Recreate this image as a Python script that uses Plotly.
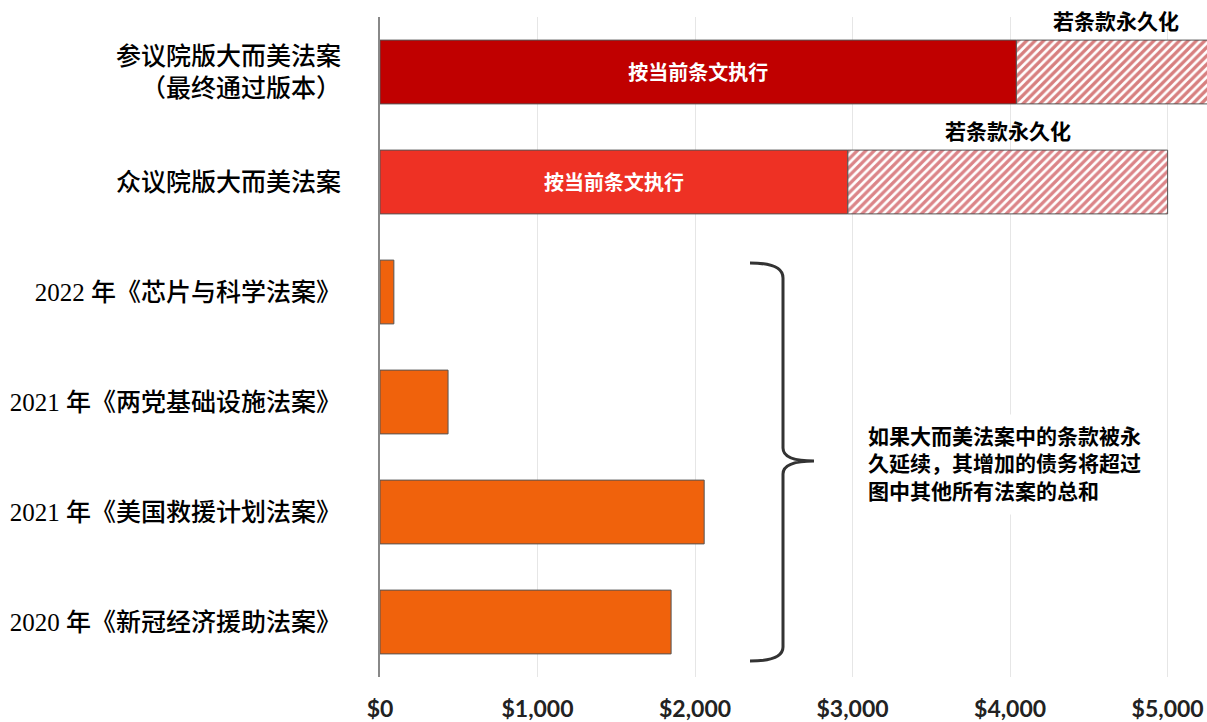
import plotly.graph_objects as go

categories = [
    "参议院版大而美法案<br>（最终通过版本）",
    "众议院版大而美法案",
    "2022 年《芯片与科学法案》",
    "2021 年《两党基础设施法案》",
    "2021 年《美国救援计划法案》",
    "2020 年《新冠经济援助法案》",
]
current_values = [4040, 2970, 88, 432, 2058, 1848]
permanent_totals = [5300, 5000]
bar_colors = ["#C00000", "#EE3124", "#F0620C", "#F0620C", "#F0620C", "#F0620C"]
hatch_colors = ["#B00000", "#B80A12"]
bar_texts = ["按当前条文执行", "按当前条文执行", "", "", "", ""]
hatch_label = "若条款永久化"
tick_vals = [0, 1000, 2000, 3000, 4000, 5000]
tick_text = ["$0", "$1,000", "$2,000", "$3,000", "$4,000", "$5,000"]
note_text = "如果大而美法案中的条款被永<br>久延续，其增加的债务将超过<br>图中其他所有法案的总和"

cjk = "Liberation Serif, Noto Sans CJK SC, serif"

fig = go.Figure()
fig.add_trace(go.Bar(
    y=categories, x=current_values, orientation="h",
    marker=dict(color=bar_colors, line=dict(color="#555555", width=1)),
    text=bar_texts, textposition="inside", insidetextanchor="middle",
    textfont=dict(color="white", size=20, family=cjk, weight="bold"),
    showlegend=False, hoverinfo="skip",
))
hatch_base = current_values[:2]
hatch_len = [t - c for t, c in zip(permanent_totals, hatch_base)]
fig.add_trace(go.Bar(
    y=categories[:2], x=hatch_len, base=hatch_base, orientation="h",
    marker=dict(color="white", line=dict(color="#555555", width=1),
                pattern=dict(shape="/", fgcolor=hatch_colors, bgcolor="white",
                             size=6, solidity=0.55)),
    showlegend=False, hoverinfo="skip",
))

for i in range(2):
    fig.add_annotation(
        x=(hatch_base[i] + permanent_totals[i]) / 2, y=categories[i],
        xref="x", yref="y", text=hatch_label, showarrow=False, yshift=50,
        font=dict(size=21, color="black", family=cjk, weight="bold"),
    )

fig.add_annotation(
    x=0.577, y=0.3227, xref="paper", yref="paper", xanchor="left", yanchor="middle",
    text=note_text, showarrow=False, align="left", bgcolor="white", borderpad=10,
    font=dict(size=21, color="black", family=cjk, weight="bold"),
)

# curly brace
def px(xp):
    return (xp - 380) / 827
def py(yp):
    return (677 - yp) / 660
path = (
    f"M {px(750)},{py(263)} Q {px(783)},{py(263)} {px(783)},{py(278)} "
    f"L {px(783)},{py(448)} Q {px(783)},{py(461)} {px(814)},{py(461)} "
    f"Q {px(783)},{py(461)} {px(783)},{py(474)} "
    f"L {px(783)},{py(647)} Q {px(783)},{py(661)} {px(750)},{py(661)}"
)
fig.add_shape(type="path", path=path, xref="paper", yref="paper",
              line=dict(color="#333333", width=3))

fig.update_layout(
    width=1207, height=722,
    margin=dict(l=380, r=0, t=17, b=45),
    paper_bgcolor="white", plot_bgcolor="white",
    barmode="overlay", bargap=0.42,
    xaxis=dict(range=[0, 5250], tickvals=tick_vals, ticktext=tick_text,
               showgrid=True, gridcolor="#e6e6e6", gridwidth=1,
               zeroline=False, showline=False,
               tickfont=dict(family="Lato, Open Sans, sans-serif", size=23,
                             color="#222222", weight="bold"),
               ticklabelstandoff=16, fixedrange=True),
    yaxis=dict(autorange="reversed", showline=True, linecolor="#888888", linewidth=2,
               ticks="", ticklabelstandoff=32,
               tickfont=dict(family=cjk, size=25, color="black", weight=500)),
)

fig.write_html("out.html")
